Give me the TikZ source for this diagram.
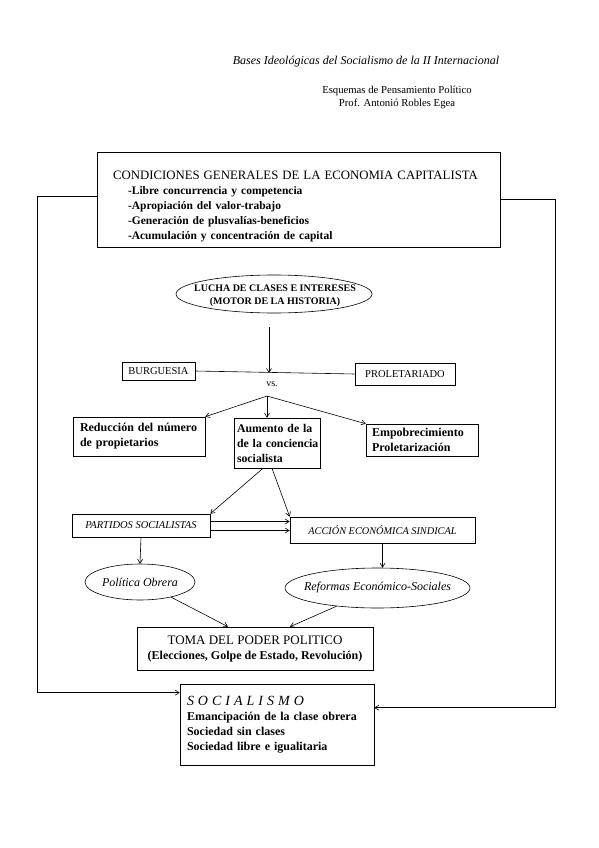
\documentclass[tikz,border=0pt]{standalone}
\usepackage{fontspec}
\setmainfont{Liberation Serif}
\usetikzlibrary{arrows.meta,positioning,calc,shapes.geometric}

\begin{document}
\begin{tikzpicture}[
  x=1pt,y=-1pt,
  font=\fontsize{12}{15}\selectfont,
  >={Straight Barb[length=4pt,width=5pt]},
  box/.style={draw,line width=0.6pt,align=left,inner ysep=2pt},
  boldbox/.style={box,font=\fontsize{12}{15}\selectfont\bfseries},
  oval/.style={ellipse,draw,line width=0.6pt,inner sep=0pt},
  ovaltext/.style={align=center,inner sep=0pt},
  line/.style={->,line width=0.6pt},
  plain/.style={line width=0.6pt}
]

% ---- page frame ----
\path[use as bounding box] (0,0) rectangle (599,848);

% ---- heading ----
\node[font=\fontsize{12}{14}\selectfont\itshape] (title) at (366,62)
  {Bases Ideológicas del Socialismo de la II Internacional};
\node[align=center,font=\fontsize{10.7}{13}\selectfont] (course) at (397,97)
  {Esquemas de Pensamiento Político\\Prof. Antonió Robles Egea};

% ---- general conditions ----
\node[box,minimum width=403pt,minimum height=95pt,text width=371pt,inner xsep=16pt] (cond) at (298.5,199.5)
  {\rule{0pt}{23pt}\fontsize{12.8}{15}\selectfont CONDICIONES GENERALES DE LA ECONOMIA CAPITALISTA\\
   \fontsize{11.5}{15}\selectfont
   \hspace*{15pt}\textbf{-Libre concurrencia y competencia}\\
   \hspace*{15pt}\textbf{-Apropiación del valor-trabajo}\\
   \hspace*{15pt}\textbf{-Generación de plusvalías-beneficios}\\
   \hspace*{15pt}\textbf{-Acumulación y concentración de capital}};

% ---- class struggle ----
\node[oval,minimum width=196pt,minimum height=38pt] (lucha) at (274,294) {};
\node[ovaltext,font=\fontsize{10}{12.5}\selectfont\bfseries] (luchatext) at ([xshift=1pt,yshift=-2pt]lucha)
  {LUCHA DE CLASES E INTERESES\\(MOTOR DE LA HISTORIA)};

\node[box,minimum width=73pt,minimum height=18pt,inner ysep=0pt,align=center,font=\fontsize{10.5}{12}\selectfont] (burg) at (158.5,371) {BURGUESIA};
\node[box,minimum width=100pt,minimum height=22pt,align=center,font=\fontsize{10.5}{12}\selectfont] (prol) at (405,374) {PROLETARIADO};
\node[font=\fontsize{10}{12}\selectfont] (vs) at (272,384) {vs.};
\coordinate (mid) at (269,376);
\coordinate (fork) at (267,396);

\draw[plain] (burg.east) -- (prol.west);
\draw[line,shorten <=14pt,shorten >=3pt] (lucha.south -| mid) -- (mid);

% ---- consequences ----
\node[boldbox,minimum width=132pt,minimum height=39pt,text width=118pt,inner xsep=7pt] (red) at (139,436.5)
  {Reducción del número\\de propietarios};
\node[boldbox,minimum width=86pt,minimum height=50pt,text width=84pt,inner xsep=1pt,
      font=\fontsize{11.8}{15}\selectfont\bfseries] (aum) at (277,443)
  {\hspace*{2pt}Aumento de la\\\hspace*{2pt}de la conciencia\\\hspace*{2pt}socialista};
\node[boldbox,minimum width=112pt,minimum height=32pt,text width=100pt,inner xsep=6pt] (emp) at (422,440)
  {Empobrecimiento\\Proletarización};

\draw[line] (fork) -- (red.north east);
\draw[line] (fork) -- (aum.north -| fork);
\draw[line] (fork) -- (emp.north west);

% ---- organisation ----
\node[box,minimum width=138pt,minimum height=23pt,align=center,font=\fontsize{10.5}{12}\selectfont\itshape] (part) at (141,525.5)
  {PARTIDOS SOCIALISTAS};
\node[box,minimum width=185pt,minimum height=26pt,align=center,font=\fontsize{10.3}{12}\selectfont\itshape] (acc) at (382.5,530)
  {ACCIÓN ECONÓMICA SINDICAL};

\draw[line] ([xshift=-14pt]aum.south) -- (part.north east);
\draw[line] ([xshift=-5pt]aum.south) -- (acc.north west);
\draw[line] ([yshift=4pt]part.east) -- ([yshift=4pt]part.east -| acc.west);
\draw[line] ([yshift=-5pt]part.east) -- ([yshift=-5pt]part.east -| acc.west);

\node[oval,minimum width=110pt,minimum height=36pt] (pol) at (140,582) {};
\node[ovaltext,font=\fontsize{12}{14}\selectfont\itshape] (poltext) at (pol) {Política Obrera};
\node[oval,minimum width=185pt,minimum height=40pt] (ref) at (377.5,588) {};
\node[ovaltext,font=\fontsize{12}{14}\selectfont\itshape] (reftext) at (ref) {Reformas Económico-Sociales};

\draw[line] (part.south) -- (pol.north);
\draw[line] (acc.south) -- (acc.south |- ref.north);

% ---- taking power ----
\node[box,minimum width=236pt,minimum height=43pt,align=center,font=\fontsize{12}{15}\selectfont\bfseries] (toma) at (255,648.5)
  {{\fontsize{13}{15}\selectfont\mdseries TOMA DEL PODER POLITICO}\\(Elecciones, Golpe de Estado, Revolución)};

\draw[line] (pol.-26) -- ([xshift=-27pt]toma.north);
\draw[line] (ref.204) -- ([xshift=35pt]toma.north);

% ---- socialism ----
\node[boldbox,minimum width=194pt,minimum height=81pt,text width=180pt,inner xsep=7pt] (soc) at (277,724.5)
  {{\fontsize{14}{16}\selectfont\mdseries\itshape S O C I A L I S M O}\\
   Emancipación de la clase obrera\\
   Sociedad sin clases\\
   Sociedad libre e igualitaria};

% ---- feedback lines ----
\coordinate (lx) at (37,0);
\coordinate (rx) at (555,0);
\coordinate (lt) at ($(cond.west)+(0,-3)$);
\coordinate (lb) at ($(soc.north west)+(0,9)$);
\coordinate (rb) at ($(soc.north east)+(0,24)$);
\draw[line] (lt) -- (lt -| lx) -- (lb -| lx) -- (lb);
\draw[line] (cond.east) -- (cond.east -| rx) -- (rb -| rx) -- (rb);

\end{tikzpicture}
\end{document}
